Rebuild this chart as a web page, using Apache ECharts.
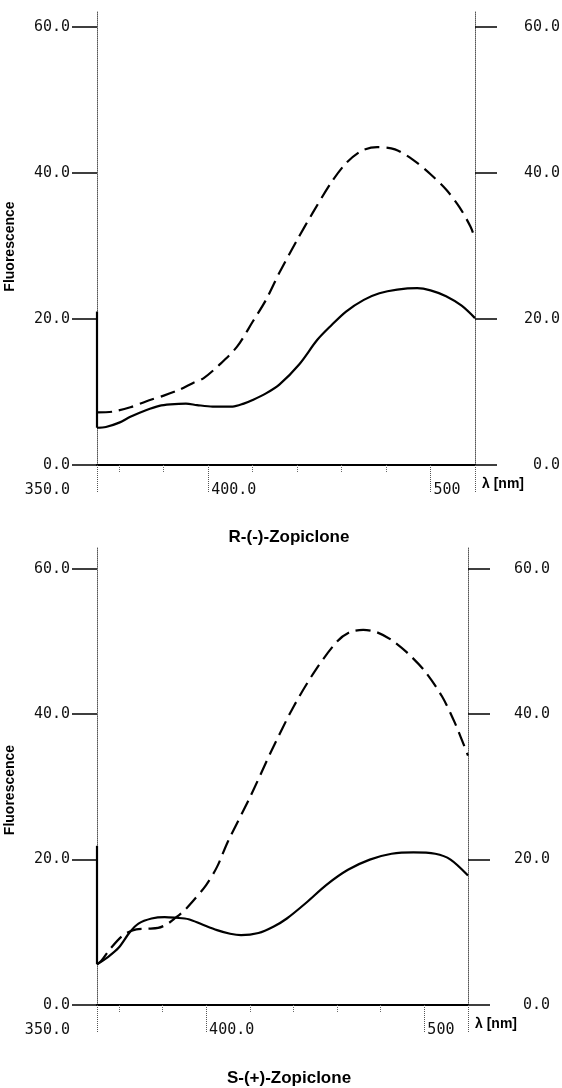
<!DOCTYPE html>
<html><head><meta charset="utf-8">
<script src="https://cdn.jsdelivr.net/npm/echarts@6/dist/echarts.min.js"></script>
<style>html,body{margin:0;padding:0;background:#fff}#c{width:562px;height:1088px}</style>
</head><body><div id="c"></div>
<script>
// ---- data ----
const titles = ['R-(-)-Zopiclone', 'S-(+)-Zopiclone'];
const yTicks = [0, 20, 40, 60];
const xMinorTicks = [360, 380, 400, 420, 440, 460, 480];
const xLongTicks = [350, 400, 500, 520];
const xLabelFirst = [350];
const xLabelOthers = [400, 500];

// R-(-)-Zopiclone
const rJumpWl = [350, 350];
const rJumpF = [21.0, 5.1];
const rSolidWl = [350,354,360,365,372,378,383,390,395,402,411,416,420,426,432,441,449,455,462,470,477,485,494,500,507,514,520];
const rSolidF  = [5.1,5.2,5.8,6.6,7.5,8.1,8.3,8.4,8.2,8.0,8.0,8.4,8.9,9.8,11.0,13.8,17.1,19.0,21.0,22.6,23.5,24.0,24.2,23.9,23.1,21.8,20.1];
const rDashWl = [350,357,365,372,380,387,393,398,405,413,420,426,432,440,447,455,462,469,476,484,492,500,507,513,518,520];
const rDashF  = [7.2,7.3,7.9,8.7,9.5,10.3,11.2,11.9,13.7,16.2,19.6,22.6,26.3,30.8,34.5,38.5,41.3,43.0,43.5,43.2,41.8,39.8,37.7,35.3,32.6,31.0];

// S-(+)-Zopiclone
const sJumpWl = [350, 350];
const sJumpF = [21.9, 5.6];
const sSolidWl = [350,355,360,365,369,375,381,386,392,398,405,411,416,424,431,437,446,455,465,475,485,495,505,512,520];
const sSolidF  = [5.6,6.6,7.9,10.0,11.2,11.9,12.1,12.0,11.8,11.1,10.3,9.8,9.6,9.9,10.8,11.9,14.1,16.5,18.6,20.0,20.8,21.0,20.8,20.0,17.8];
const sDashWl = [350,352,356,362,368,373,378,382,386,390,394,400,405,410,420,430,440,450,460,466,472,478,485,492,500,508,514,520];
const sDashF  = [5.6,6.1,7.7,9.6,10.4,10.5,10.6,11.1,12.0,13.0,14.3,16.5,19.0,22.5,28.5,35.0,41.0,46.0,50.0,51.3,51.6,51.3,50.2,48.5,46.0,42.5,38.8,34.3];

const pairs = (xs, ys) => xs.map((x, i) => [x, ys[i]]);

// ---- layout ----
const panels = [
  {grid: {left: 97, top: 12, width: 378, height: 453}, ymax: 62, rightLabelMargin: 85, titleTop: 524, namePad: 16},
  {grid: {left: 97, top: 547, width: 371, height: 458}, ymax: 63, rightLabelMargin: 82, titleTop: 1065, namePad: 28}
];
const monoFont = {fontFamily: 'DejaVu Sans Mono', fontSize: 15, color: '#111'};
const dotted = {color: '#555', width: 1, type: [1, 1]};

const grids = [], xAxes = [], yAxes = [], series = [], titleComps = [];
const seriesSets = [
  {jump: pairs(rJumpWl, rJumpF), solid: pairs(rSolidWl, rSolidF), dash: pairs(rDashWl, rDashF)},
  {jump: pairs(sJumpWl, sJumpF), solid: pairs(sSolidWl, sSolidF), dash: pairs(sDashWl, sDashF)}
];

panels.forEach((p, g) => {
  grids.push(Object.assign({containLabel: false, outerBoundsMode: 'none'}, p.grid));
  // main x axis
  xAxes.push({
    type: 'value', gridIndex: g, min: 350, max: 520, position: 'bottom',
    axisLine: {show: true, onZero: false, lineStyle: {color: '#000', width: 2}},
    axisTick: {show: true, customValues: xMinorTicks, length: 8, lineStyle: {color: '#666', width: 1, type: [1, 1]}},
    axisLabel: Object.assign({customValues: xLabelOthers, align: 'left', margin: 18, padding: [0, 0, 0, 3],
      formatter: v => v === 500 ? '500' : v.toFixed(1)}, monoFont),
    splitLine: {show: false},
    name: 'λ [nm]', nameLocation: 'end', nameGap: 7,
    nameTextStyle: {fontFamily: 'Liberation Sans', fontSize: 14, fontWeight: 'bold', color: '#000', align: 'left', verticalAlign: 'top', lineHeight: 38}
  });
  // long dotted ticks
  xAxes.push({
    type: 'value', gridIndex: g, min: 350, max: 520, position: 'bottom',
    axisLine: {show: false, onZero: false},
    axisTick: {show: true, customValues: xLongTicks, length: 28, lineStyle: dotted},
    axisLabel: Object.assign({customValues: xLabelFirst, align: 'right', margin: 18, padding: [0, 27, 0, 0],
      formatter: v => v.toFixed(1)}, monoFont),
    splitLine: {show: false}
  });
  // left y
  yAxes.push({
    type: 'value', gridIndex: g, position: 'left', min: 0, max: p.ymax, interval: 20,
    axisLine: {show: true, onZero: false, lineStyle: dotted},
    axisTick: {show: true, customValues: yTicks, length: 25, lineStyle: {color: '#000', width: 1.5}},
    axisLabel: Object.assign({customValues: yTicks, margin: 27, align: 'right', verticalAlign: 'middle', padding: [0, 0, 11, 0],
      formatter: v => v.toFixed(1)}, monoFont),
    splitLine: {show: false},
    name: 'Fluorescence', nameLocation: 'middle', nameGap: 80, nameRotate: 90,
    nameTextStyle: {fontFamily: 'Liberation Sans', fontSize: 14, fontWeight: 'bold', color: '#000', padding: [0, p.namePad, 0, 0]}
  });
  // right y
  yAxes.push({
    type: 'value', gridIndex: g, position: 'right', min: 0, max: p.ymax, interval: 20,
    axisLine: {show: true, onZero: false, lineStyle: dotted},
    axisTick: {show: true, customValues: yTicks, length: 22, lineStyle: {color: '#000', width: 1.5}},
    axisLabel: Object.assign({customValues: yTicks, margin: p.rightLabelMargin, align: 'right', verticalAlign: 'middle', padding: [0, 0, 11, 0],
      formatter: v => v.toFixed(1)}, monoFont),
    splitLine: {show: false}
  });
  const s = seriesSets[g];
  const common = {type: 'line', xAxisIndex: g * 2, yAxisIndex: g * 2, showSymbol: false, symbol: 'none', animation: false, z: 3};
  series.push(Object.assign({}, common, {data: s.jump, lineStyle: {color: '#000', width: 2.2}}));
  series.push(Object.assign({}, common, {data: s.solid, smooth: 0.3, lineStyle: {color: '#000', width: 2.2}}));
  series.push(Object.assign({}, common, {data: s.dash, smooth: 0.3, lineStyle: {color: '#000', width: 2.2, type: [15, 7]}}));
  titleComps.push({text: titles[g], left: 284, top: p.titleTop, textAlign: 'center',
    textStyle: {fontFamily: 'Liberation Sans', fontSize: 17, fontWeight: 'bold', color: '#000'}});
});

const chart = echarts.init(document.getElementById('c'), null, {renderer: 'canvas'});
chart.setOption({
  backgroundColor: '#fff',
  animation: false,
  title: titleComps,
  grid: grids,
  xAxis: xAxes,
  yAxis: yAxes,
  series: series
});
</script></body></html>
